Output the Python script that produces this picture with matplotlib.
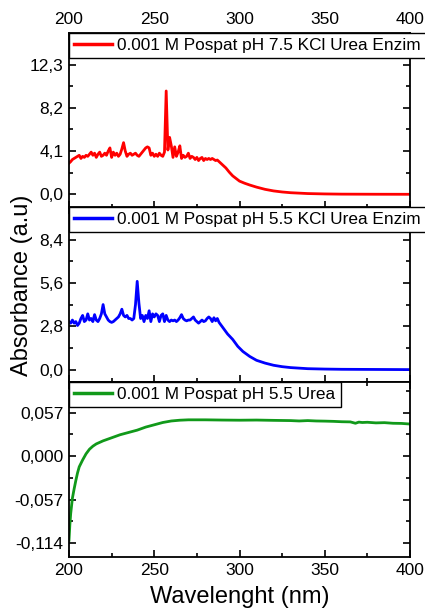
import numpy as np
import matplotlib
matplotlib.use('Agg')
import matplotlib.pyplot as plt
from matplotlib.ticker import MultipleLocator, FuncFormatter

plt.rcParams['font.family'] = ['Liberation Sans', 'DejaVu Sans']

# --- data ---
# red: 0.001 M Pospat pH 7.5 KCl Urea Enzim
wl_red = list(range(200, 289)) + [290, 292, 294, 296, 298, 300, 303, 306, 310, 315, 320,
                                   325, 330, 340, 350, 360, 380, 400]
abs_red = [2.95, 3.1, 3.3, 3.4, 3.5, 3.6, 3.7, 3.4, 3.6, 3.5,
           3.7, 3.6, 3.8, 4.0, 3.7, 3.9, 3.5, 3.8, 4.0, 3.6,
           3.7, 3.9, 3.7, 4.1, 4.4, 3.5, 4.0, 3.7, 3.9, 3.6,
           3.8, 4.3, 4.9, 4.1, 3.6, 3.8, 3.9, 3.7, 3.8, 3.9,
           3.7, 3.6, 3.8, 4.0, 4.2, 4.4, 4.5, 4.4, 3.7, 3.9,
           3.6, 3.8, 3.6, 3.9, 3.7, 3.6, 4.0, 9.8, 4.2, 5.4,
           4.6, 3.5, 4.5, 3.6, 4.0, 4.6, 3.4, 3.7, 3.5, 3.6,
           3.9, 3.4, 3.6, 3.5, 3.3, 3.5, 3.2, 3.4, 3.5, 3.2,
           3.4, 3.3, 3.4, 3.3, 3.4, 3.3, 3.2, 3.25, 3.1,
           2.8, 2.5, 2.1, 1.75, 1.5, 1.25, 1.05, 0.88, 0.68, 0.47, 0.32,
           0.22, 0.15, 0.07, 0.035, 0.015, 0.005, 0.0]

# blue: 0.001 M Pospat pH 5.5 KCl Urea Enzim
wl_blue = list(range(200, 289)) + [290, 293, 296, 299, 302, 306, 310, 315, 320, 325,
                                    330, 340, 350, 360, 380, 400]
abs_blue = [3.1, 3.0, 3.2, 3.0, 3.1, 2.85, 3.0, 3.3, 3.5, 3.1,
            3.2, 3.6, 3.2, 3.3, 3.1, 3.55, 3.2, 3.1, 3.3, 3.6,
            4.2, 3.6, 3.4, 3.2, 3.1, 3.05, 3.1, 3.2, 3.3, 3.4,
            3.6, 3.9, 3.5, 3.4, 3.5, 3.3, 3.3, 3.2, 3.3, 4.2,
            5.7, 4.3, 3.3, 3.5, 3.1, 3.5, 3.3, 3.8, 3.1, 3.6,
            3.4, 3.6, 3.5, 3.1, 3.5, 3.6, 3.1, 3.5, 3.2, 3.1,
            3.2, 3.15, 3.2, 3.1, 3.2, 3.35, 3.55, 3.3, 3.2, 3.15,
            3.2, 3.2, 3.3, 3.4, 3.2, 3.1, 3.0, 3.1, 3.2, 3.1,
            3.15, 3.3, 3.4, 3.3, 3.1, 3.35, 3.15, 3.3, 3.05,
            2.75, 2.3, 1.95, 1.5, 1.17, 0.85, 0.6, 0.42, 0.28, 0.19,
            0.13, 0.06, 0.035, 0.02, 0.01, 0.0]

# green: 0.001 M Pospat pH 5.5 Urea
wl_green = [200, 200.5, 201, 202, 203, 204, 205, 206, 208, 210, 212, 214, 216, 220,
            225, 230, 235, 240, 245, 250, 255, 260, 265, 270, 275, 280, 290, 300,
            310, 320, 330, 335, 340, 345, 350, 355, 360, 365, 368, 370, 372, 375,
            380, 385, 390, 395, 400]
abs_green = [-0.11, -0.09, -0.075, -0.055, -0.043, -0.032, -0.022, -0.014, -0.005,
             0.003, 0.009, 0.013, 0.016, 0.020, 0.024, 0.028, 0.031, 0.034, 0.038,
             0.041, 0.044, 0.046, 0.047, 0.0475, 0.0475, 0.0475, 0.0472, 0.0470,
             0.0472, 0.0468, 0.0465, 0.046, 0.0465, 0.046, 0.0458, 0.0455, 0.045,
             0.0448, 0.043, 0.0445, 0.044, 0.0443, 0.0435, 0.0438, 0.043, 0.0428, 0.042]

panels = [
    (wl_red, abs_red, 'red', '0.001 M Pospat pH 7.5 KCl Urea Enzim', (-1.3, 15.3), 4.1, 1),
    (wl_blue, abs_blue, 'blue', '0.001 M Pospat pH 5.5 KCl Urea Enzim', (-0.8, 10.5), 2.8, 1),
    (wl_green, abs_green, '#11991a', '0.001 M Pospat pH 5.5 Urea', (-0.132, 0.097), 0.057, 3),
]

fig = plt.figure(figsize=(4.25, 6.13), dpi=100)
left, width = 69 / 425, 341 / 425
tops = [33, 207, 382]
h = 175

axes = []
for i, (x, y, col, lab, ylim, step, dec) in enumerate(panels):
    ax = fig.add_axes([left, 1 - (tops[i] + h) / 613, width, h / 613])
    ax.plot(x, y, color=col, lw=2.0, label=lab)
    ax.set_xlim(200, 400)
    ax.set_ylim(*ylim)
    ax.xaxis.set_major_locator(MultipleLocator(50))
    ax.xaxis.set_minor_locator(MultipleLocator(25))
    ax.yaxis.set_major_locator(MultipleLocator(step))
    ax.yaxis.set_minor_locator(MultipleLocator(step / 2))
    ax.yaxis.set_major_formatter(FuncFormatter(
        lambda v, p, d=dec: ('%.*f' % (d, 0.0 if abs(v) < 1e-9 else v)).replace('.', ',')))
    ax.tick_params(which='both', direction='in', top=True, right=True,
                   labelsize=12.5, width=1.2)
    ax.tick_params(which='major', length=5, pad=4)
    ax.tick_params(which='minor', length=3)
    for s in ax.spines.values():
        s.set_linewidth(1.3)
    if i == 0:
        ax.tick_params(labeltop=True, labelbottom=False)
    elif i == 1:
        ax.tick_params(labelbottom=False)
    leg = ax.legend(loc='upper left', bbox_to_anchor=(0, 1), borderaxespad=0,
                    fontsize=12.4, frameon=True, fancybox=False, handlelength=2.2,
                    handletextpad=0.3, borderpad=0.3, framealpha=1)
    leg.get_frame().set_edgecolor('black')
    leg.get_frame().set_linewidth(1.0)
    for l in leg.get_lines():
        l.set_linewidth(2.5)
    axes.append(ax)

axes[2].set_xlabel('Wavelenght (nm)', fontsize=17, labelpad=6)
fig.text(0.052, 0.535, 'Absorbance (a.u)', rotation=90, fontsize=17,
         ha='center', va='center')

plt.savefig('out.png', dpi=100)
